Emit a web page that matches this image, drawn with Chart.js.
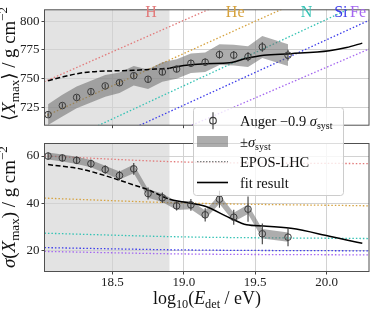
<!DOCTYPE html>
<html>
<head>
<meta charset="utf-8">
<script src="https://cdn.jsdelivr.net/npm/chart.js@4.4.1/dist/chart.umd.min.js"></script>
<style>
  html, body { margin: 0; padding: 0; background: #fff; }
  #wrap { position: relative; width: 374px; height: 311px; }
  #wrap canvas { position: absolute; left: 0; top: 0; }
</style>
</head>
<body>
<div id="wrap">
  <canvas id="topPanel" width="374" height="135"></canvas>
  <canvas id="bottomPanel" width="374" height="311"></canvas>
</div>
<script>
// ============================
// Data
// ============================
const energyBins = [18.05, 18.15, 18.25, 18.35, 18.45, 18.55, 18.65, 18.75, 18.85, 18.95, 19.05, 19.15, 19.25, 19.35, 19.45, 19.55, 19.73];

const xmaxMean = [718.7, 726.6, 733.7, 738.7, 743.7, 746.5, 752.6, 749.5, 755.8, 758.4, 763.4, 764.4, 771.0, 770.5, 769.2, 777.6, 770.5];
const xmaxStat = [2.0, 2.0, 2.0, 2.0, 2.0, 2.2, 2.3, 2.5, 2.6, 2.8, 3.0, 3.2, 3.5, 3.6, 4.0, 4.2, 4.6];
const xmaxSys  = [9.0, 9.5, 9.5, 9.5, 9.5, 9.0, 8.5, 8.5, 8.5, 8.5, 8.5, 8.5, 9.0, 9.0, 9.0, 9.5, 9.5];

const sigmaVals = [60.0, 59.2, 58.2, 56.8, 54.3, 51.8, 54.6, 44.2, 42.4, 39.0, 39.4, 35.2, 41.8, 34.2, 37.6, 27.2, 25.8];
const sigmaStat = [1.5, 1.5, 1.6, 1.7, 1.8, 2.0, 2.5, 2.5, 2.2, 2.0, 2.5, 2.8, 3.6, 3.2, 5.3, 4.4, 3.9];
const sigmaSys  = [1.5, 1.5, 1.5, 1.5, 1.6, 1.7, 1.8, 1.8, 1.8, 1.8, 1.8, 1.8, 1.9, 1.9, 2.0, 2.0, 2.0];

// fit result
const fitX     = [18.05, 18.15, 18.25, 18.35, 18.5, 18.65, 18.75, 18.9, 19.0, 19.15, 19.32, 19.44, 19.56, 19.75, 20.02, 20.14, 20.25];
const fitXmax  = [748.2, 751.5, 754.3, 756.0, 756.8, 757.3, 758.1, 759.2, 761.5, 763.1, 763.9, 767.8, 770.5, 771.8, 774.4, 777.1, 781.0];
const fitSigma = [56.4, 55.7, 54.9, 53.5, 50.8, 47.8, 45.8, 41.8, 40.6, 38.8, 34.0, 31.0, 30.5, 29.5, 26.2, 24.6, 23.2];

// EPOS-LHC predictions
const elements = ["H", "He", "N", "Si", "Fe"];
const modelXmaxX = [18.0, 20.3];
const modelXmax = {
  H:  [746, 872],
  He: [715.7, 845],
  N:  [686, 819],
  Si: [670, 801],
  Fe: [653, 776]
};
const modelSigmaX = [18.0, 19.0, 20.3];
const modelSigma = {
  H:  [60.1, 57.5, 56.8],
  He: [42.3, 40.2, 39.0],
  N:  [27.5, 25.9, 25.2],
  Si: [21.4, 20.4, 20.0],
  Fe: [19.8, 18.7, 18.3]
};
const elementLabelX = [18.77, 19.36, 19.86, 20.1, 20.22];

const xTicks = [18.5, 19.0, 19.5, 20.0];
const xmaxTicks = [725, 750, 775, 800];
const sigmaTicks = [20, 40, 60];
const shadeEnd = 18.9;

// ============================
// Styles
// ============================
const colors = { H: "#e27a7a", He: "#d6a23e", N: "#33c2b4", Si: "#3b3bea", Fe: "#a466f0" };
const SERIF = "'Liberation Serif', 'DejaVu Serif', serif";
const bandColor = "rgba(105,105,105,0.55)";
const markColor = "#3a3a3a";

function pts(xs, ys) {
  return xs.map((x, i) => ({ x: x, y: ys[i] }));
}

// text made of pieces (sub/superscripts, italics), centered on x, baseline y.
// if fitWidth is given the sizes are scaled so the whole string has that width
function drawRich(ctx, parts, x, y, angle, fitWidth) {
  const fontOf = (p, k) => (p.it ? "italic " : "") + (p.s * k) + "px " + SERIF;
  let total = 0;
  parts.forEach(p => { ctx.font = fontOf(p, 1); total += ctx.measureText(p.t).width; });
  const k = fitWidth ? fitWidth / total : 1;
  ctx.save();
  ctx.translate(x, y);
  ctx.rotate(angle || 0);
  ctx.textAlign = "left";
  ctx.textBaseline = "alphabetic";
  let cx = -total * k / 2;
  parts.forEach(p => {
    ctx.font = fontOf(p, k);
    ctx.fillText(p.t, cx, (p.dy || 0) * k);
    cx += ctx.measureText(p.t).width;
  });
  ctx.restore();
  return total * k;
}

// ============================
// Plugins
// ============================
const shadePlugin = {
  id: "shade",
  beforeDraw(chart) {
    const { ctx, chartArea: a, scales } = chart;
    ctx.save();
    ctx.fillStyle = "#e3e3e3";
    const xe = scales.x.getPixelForValue(shadeEnd);
    ctx.fillRect(a.left, a.top, xe - a.left, a.bottom - a.top);
    ctx.restore();
  }
};

function errorBars(values, errs) {
  return {
    id: "errbars",
    afterDatasetsDraw(chart) {
      const { ctx, scales } = chart;
      ctx.save();
      ctx.strokeStyle = markColor;
      ctx.lineWidth = 1.1;
      energyBins.forEach((e, i) => {
        const px = scales.x.getPixelForValue(e);
        ctx.beginPath();
        ctx.moveTo(px, scales.y.getPixelForValue(values[i] - errs[i]));
        ctx.lineTo(px, scales.y.getPixelForValue(values[i] + errs[i]));
        ctx.stroke();
      });
      ctx.restore();
    }
  };
}

const framePlugin = {
  id: "frame",
  afterDraw(chart) {
    const { ctx, chartArea: a } = chart;
    ctx.save();
    ctx.strokeStyle = "#505050";
    ctx.lineWidth = 1;
    ctx.strokeRect(a.left, a.top, a.right - a.left, a.bottom - a.top);
    ctx.restore();
  }
};

const topLabels = {
  id: "topLabels",
  afterDraw(chart) {
    const ctx = chart.ctx;
    ctx.save();
    ctx.font = "16px " + SERIF;
    ctx.textAlign = "center";
    ctx.textBaseline = "middle";
    elements.forEach((el, i) => {
      ctx.fillStyle = colors[el];
      ctx.fillText(el, chart.scales.x.getPixelForValue(elementLabelX[i]), 13);
    });
    ctx.fillStyle = "#111";
    drawRich(ctx, [
      { t: "\u27E8", s: 18 }, { t: "X", s: 18, it: true }, { t: "max", s: 12.5, dy: 4 },
      { t: "\u27E9", s: 18 }, { t: " / g cm", s: 18 }, { t: "\u22122", s: 12.5, dy: -8 }
    ], 15, 64, -Math.PI / 2, 114);
    ctx.restore();
  }
};

const bottomLabels = {
  id: "bottomLabels",
  afterDraw(chart) {
    const ctx = chart.ctx;
    ctx.save();
    ctx.fillStyle = "#111";
    drawRich(ctx, [
      { t: "\u03C3", s: 18, it: true }, { t: "(", s: 18 }, { t: "X", s: 18, it: true },
      { t: "max", s: 12.5, dy: 4 }, { t: ")", s: 18 }, { t: " / g cm", s: 18 },
      { t: "\u22122", s: 12.5, dy: -8 }
    ], 15, 207, -Math.PI / 2, 122);
    drawRich(ctx, [
      { t: "log", s: 17.5 }, { t: "10", s: 12, dy: 4 }, { t: "(", s: 17.5 },
      { t: "E", s: 17.5, it: true }, { t: "det", s: 12, dy: 4 }, { t: " / eV)", s: 17.5 }
    ], 207, 304, 0, 108);

    // legend box (spans over both panels)
    const L = 193.5, T = 107.5, W = 150, H = 88;
    ctx.fillStyle = "rgba(255,255,255,0.8)";
    ctx.strokeStyle = "#cccccc";
    ctx.lineWidth = 1;
    ctx.beginPath();
    ctx.roundRect(L, T, W, H, 3);
    ctx.fill();
    ctx.stroke();

    const rows = [120.7, 141.5, 161.7, 182.5];
    // errorbar handle
    ctx.strokeStyle = markColor;
    ctx.lineWidth = 1.1;
    ctx.beginPath();
    ctx.moveTo(213, rows[0] - 8.5);
    ctx.lineTo(213, rows[0] + 8.5);
    ctx.stroke();
    ctx.beginPath();
    ctx.arc(213, rows[0], 3.3, 0, Math.PI * 2);
    ctx.stroke();
    // band handle
    ctx.fillStyle = bandColor;
    ctx.fillRect(197, rows[1] - 5.5, 31, 11);
    // dotted handle
    ctx.strokeStyle = "#555";
    ctx.setLineDash([1.5, 1.5]);
    ctx.beginPath();
    ctx.moveTo(197, rows[2]);
    ctx.lineTo(228, rows[2]);
    ctx.stroke();
    ctx.setLineDash([]);
    // fit handle
    ctx.strokeStyle = "#000";
    ctx.lineWidth = 1.6;
    ctx.beginPath();
    ctx.moveTo(197, rows[3]);
    ctx.lineTo(228, rows[3]);
    ctx.stroke();

    ctx.fillStyle = "#111";
    const tx = 240, off = 5;
    const left = (parts, y) => {
      let w = 0;
      parts.forEach(p => { ctx.font = (p.it ? "italic " : "") + p.s + "px " + SERIF; w += ctx.measureText(p.t).width; });
      drawRich(ctx, parts, tx + w / 2, y + off, 0);
    };
    left([{ t: "Auger \u22120.9 ", s: 14.5 }, { t: "\u03C3", s: 14.5, it: true }, { t: "syst", s: 10, dy: 3 }], rows[0]);
    left([{ t: "\u00B1", s: 14.5 }, { t: "\u03C3", s: 14.5, it: true }, { t: "syst", s: 10, dy: 3 }], rows[1]);
    left([{ t: "EPOS-LHC", s: 14.5 }], rows[2]);
    left([{ t: "fit result", s: 14.5 }], rows[3]);
    ctx.restore();
  }
};

// ============================
// Dataset builders
// ============================
function modelSets(xs, table) {
  return elements.map(el => ({
    data: pts(xs, table[el]),
    showLine: true,
    borderColor: colors[el],
    borderWidth: 1.3,
    borderDash: [1.5, 2],
    pointRadius: 0,
    cubicInterpolationMode: "monotone",
    order: 4
  }));
}

function panelSets(values, sys, fitY, modelX, modelTable) {
  return [
    {
      data: pts(energyBins, values),
      pointStyle: "circle",
      pointRadius: 3.3,
      borderColor: markColor,
      borderWidth: 1,
      backgroundColor: "rgba(0,0,0,0)",
      order: 0
    },
    {
      data: pts(fitX, fitY),
      showLine: true,
      borderColor: "#000",
      borderWidth: 1.5,
      pointRadius: 0,
      cubicInterpolationMode: "monotone",
      segment: { borderDash: ctx => (ctx.p1.parsed.x <= shadeEnd ? [5, 2.5] : undefined) },
      order: 1
    },
    {
      data: pts(energyBins, values.map((v, i) => v + sys[i])),
      showLine: true,
      borderWidth: 0,
      pointRadius: 0,
      fill: "+1",
      backgroundColor: bandColor,
      order: 2
    },
    {
      data: pts(energyBins, values.map((v, i) => v - sys[i])),
      showLine: true,
      borderWidth: 0,
      pointRadius: 0,
      order: 3
    }
  ].concat(modelSets(modelX, modelTable));
}

function baseOptions(yMin, yMax, yTicks, padding, xHeight, showXLabels) {
  return {
    responsive: false,
    animation: false,
    devicePixelRatio: 1,
    layout: { padding: padding },
    plugins: { legend: { display: false }, tooltip: { enabled: false } },
    scales: {
      x: {
        type: "linear",
        min: 18.025,
        max: 20.297,
        afterFit: s => { s.height = xHeight; },
        afterBuildTicks: s => { s.ticks = xTicks.map(v => ({ value: v })); },
        border: { display: false },
        grid: { color: "#d2d2d2", lineWidth: 1, tickLength: 3, tickColor: "#444" },
        ticks: {
          display: showXLabels,
          padding: 0,
          color: "#222",
          font: { family: SERIF, size: 13 },
          callback: v => v.toFixed(1),
          maxRotation: 0
        }
      },
      y: {
        min: yMin,
        max: yMax,
        afterFit: s => { s.width = 44.5; },
        afterBuildTicks: s => { s.ticks = yTicks.map(v => ({ value: v })); },
        border: { display: false },
        grid: { color: "#d2d2d2", lineWidth: 1, tickLength: 3, tickColor: "#444" },
        ticks: {
          padding: 2,
          color: "#222",
          font: { family: SERIF, size: 13 }
        }
      }
    }
  };
}

// ============================
// Top panel: <Xmax>
// ============================
new Chart(document.getElementById("topPanel"), {
  type: "scatter",
  data: { datasets: panelSets(xmaxMean, xmaxSys, fitXmax, modelXmaxX, modelXmax) },
  options: baseOptions(709.5, 810, xmaxTicks, { left: 0, right: 4.5, top: 3.5, bottom: 4.5 }, 0, false),
  plugins: [shadePlugin, errorBars(xmaxMean, xmaxStat), framePlugin, topLabels]
});

// ============================
// Bottom panel: sigma(Xmax)
// ============================
new Chart(document.getElementById("bottomPanel"), {
  type: "scatter",
  data: { datasets: panelSets(sigmaVals, sigmaSys, fitSigma, modelSigmaX, modelSigma) },
  options: baseOptions(11.3, 65.3, sigmaTicks, { left: 0, right: 4.5, top: 143.5, bottom: 0 }, 39.5, true),
  plugins: [shadePlugin, errorBars(sigmaVals, sigmaStat), framePlugin, bottomLabels]
});
</script>
</body>
</html>
